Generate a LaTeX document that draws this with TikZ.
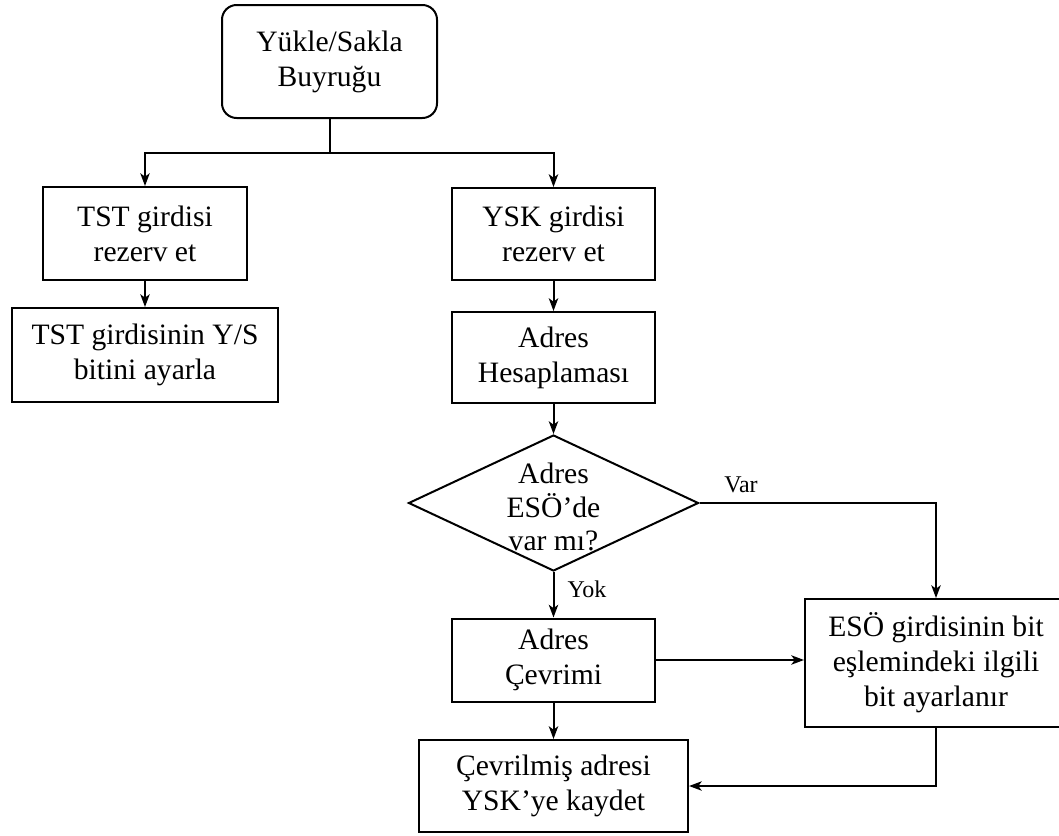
\documentclass[tikz,border=0pt]{standalone}
\usepackage{fontspec}
\setmainfont{Liberation Serif}
\usetikzlibrary{shapes.geometric,arrows.meta}
\begin{document}
\begin{tikzpicture}[x=0.75pt,y=-0.75pt,
  line width=1.5pt,
  box/.style={draw,rectangle,align=center,inner sep=0pt,
    font=\fontsize{22.2}{26.3}\selectfont},
  arr/.style={-{Stealth[length=9.5pt,width=7pt,inset=2.5pt]}},
  lbl/.style={font=\fontsize{18}{21}\selectfont,inner sep=0pt}]
\useasboundingbox (0,0) rectangle (1059,835);

% start node
\node[box,rounded corners=11pt,minimum width=161.25pt,minimum height=84.75pt]
  (start) at (329.5,61.5) {Yükle/Sakla\\Buyruğu};

% left branch
\node[box,minimum width=153pt,minimum height=69.75pt]
  (tst) at (145,233.5) {TST girdisi\\rezerv et};
\node[box,minimum width=199.5pt,minimum height=70.5pt]
  (tstys) at (145,355) {TST girdisinin Y/S\\bitini ayarla};

% right branch
\node[box,minimum width=152.25pt,minimum height=69pt]
  (ysk) at (553.5,234) {YSK girdisi\\rezerv et};
\node[box,minimum width=152.25pt,minimum height=68.25pt]
  (hes) at (553.5,357.5) {Adres\\Hesaplaması};

% decision
\node[draw,diamond,inner sep=0pt,minimum width=217.5pt,minimum height=102pt]
  (dia) at (553.5,503) {};
\node[align=center,inner sep=0pt,font=\fontsize{22.2}{25}\selectfont]
  (dtext) at (553.5,507) {Adres\\ESÖ’de\\var mı?};

\node[box,minimum width=152.25pt,minimum height=62.25pt]
  (cev) at (553.5,660) {Adres\\Çevrimi};
\node[box,minimum width=196.5pt,minimum height=96pt]
  (eso) at (936,663) {ESÖ girdisinin bit\\eşlemindeki ilgili\\bit ayarlanır};
\node[box,minimum width=201.75pt,minimum height=69pt]
  (cevr) at (553.5,786) {Çevrilmiş adresi\\YSK’ye kaydet};

% branch labels
\node[lbl] (var) at (741,485) {Var};
\node[lbl] (yok) at (587,589) {Yok};

% connectors
\coordinate (split) at (329.5,153);
\draw (start.south) -- (split);
\draw[arr] (split) -| (tst.north);
\draw[arr] (split) -| (ysk.north);
\draw[arr] (tst) -- (tstys);
\draw[arr] (ysk) -- (hes);
\draw[arr] (hes) -- (dia.north);
\draw[arr] (dia.east) -| (eso.north);
\draw[arr] (dia.south) -- (cev.north);
\draw[arr] (cev.east) -- (cev.east -| eso.west);
\draw[arr] (cev) -- (cevr);
\draw[arr] (eso.south) |- (cevr.east);
\end{tikzpicture}
\end{document}
